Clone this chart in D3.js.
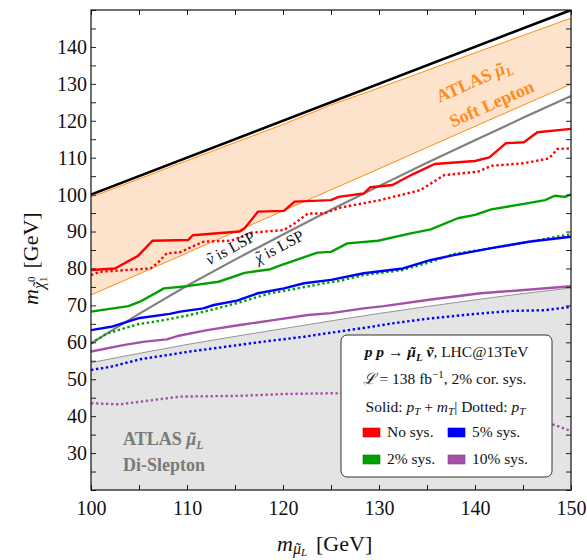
<!DOCTYPE html>
<html><head><meta charset="utf-8">
<script src="https://cdn.jsdelivr.net/npm/d3@7/dist/d3.min.js"></script>
<style>
html,body{margin:0;padding:0;background:#fff;}
svg{display:block;}
text{font-family:"Liberation Serif","DejaVu Serif",serif;}
</style></head>
<body>
<svg id="c" width="587" height="560"></svg>
<script>
// ---------------- data ----------------
const xTickLabels = [100,110,120,130,140,150];
const yTickLabels = [30,40,50,60,70,80,90,100,110,120,130,140];

const diagLine   = [[100,100],[150,150]];
const softUpper  = [[100,99.3],[110,109.2],[120,119.0],[125,124.3],[130,128.9],[140,138.4],[150,147.8]];
const softLower  = [[100,72.8],[110,84.2],[120,95.6],[125,101.3],[130,107.0],[140,118.5],[150,129.9]];
const lspLine    = [[100,59.7],[105,67.7],[110,75.3],[115,82.4],[120,89.2],[125,95.9],[130,102.3],[135,108.6],[140,114.7],[145,120.8],[150,126.7]];
const diSlepton  = [[100,54.5],[105,57.0],[110,59.4],[115,61.6],[120,63.7],[125,65.8],[130,67.8],[135,69.7],[140,71.5],[145,73.2],[150,74.7]];

const noSysSolid = [[100,79.6],[102.5,80.0],[104.9,83.4],[106.4,87.5],[110.1,87.7],[110.6,89.0],[115.5,90.0],[116.0,90.9],[117.4,95.4],[120.1,95.6],[121.2,98.1],[125,98.5],[125.8,99.4],[128.4,100.3],[129.1,102.0],[131.4,102.6],[133.5,105.5],[135.8,108.3],[140.0,109.1],[141.5,110.1],[143.2,113.9],[145.1,114.2],[146.5,116.9],[150,117.8]];
const noSysDot   = [[100,78.2],[100.9,79.1],[106.2,80.0],[106.9,81.4],[107.9,84.1],[109.3,84.4],[110.7,86.1],[111.8,87.3],[114.6,87.5],[116.7,89.7],[120.1,90.4],[121.2,92.2],[122.6,94.9],[124.3,94.9],[126,96.5],[130.1,98.5],[134.3,101.2],[136.8,105.3],[140.3,106.2],[141.7,107.8],[145.1,108.5],[147.7,109.8],[148.6,112.4],[150,112.5]];
const sys2Solid  = [[100,68.3],[103.9,69.8],[105.1,71.0],[107.6,74.6],[110,75.2],[113.3,76.4],[116,78.8],[118.7,79.8],[119.8,80.9],[123.6,84.3],[125,84.5],[126.7,86.8],[129.9,87.5],[133.3,89.5],[135.4,90.6],[138.2,93.6],[140,94.5],[141.7,96.0],[145.1,97.5],[147.3,98.5],[148.3,99.7],[149.4,99.4],[150,100.1]];
const sys2Dot    = [[100,59.7],[101.7,62.4],[104.9,64.9],[107.6,66.0],[110.3,67.4],[112.4,68.7],[115.2,70.6],[117.4,72.3],[118.7,73.3],[121.5,74.6],[124.3,76.0],[126,76.7],[128.4,78.2],[132.5,79.6],[135.4,81.8],[137.8,83.9],[141.7,85.5],[145.8,87.3],[150,89.3]];
const sys5Solid  = [[100,63.3],[102.1,64.2],[104.9,66.5],[108.2,67.7],[109.3,68.3],[111.7,69.2],[112.8,70.1],[115.2,71.3],[117.4,73.3],[120.1,74.6],[122.2,76.0],[125,76.9],[128.4,78.7],[132.5,80.0],[135.4,82.3],[137.8,83.6],[141.7,85.5],[145.8,87.3],[150,88.6]];
const sys5Dot    = [[100,52.5],[102.1,53.4],[105.1,55.4],[110.3,57.5],[114.6,59.0],[118,60.2],[122.2,61.5],[125,62.6],[129.2,64.2],[131.3,65.1],[135.4,66.5],[139.6,67.6],[143.8,68.5],[147.3,68.7],[150,69.6]];
const sys10Solid = [[100,57.5],[103.5,59.3],[105.6,60.2],[107.9,60.8],[109,61.7],[112.1,63.3],[115.5,64.7],[119,66.0],[122.6,67.4],[125,67.9],[128.4,69.2],[130.5,69.8],[135.4,71.6],[140.6,73.3],[145.8,74.3],[150,75.2]];
const sys10Dot   = [[100,43.5],[103,43.2],[105.1,43.9],[109.3,45.3],[115.5,45.5],[120.1,46.0],[125,46.2],[130,46.0],[135,45.0],[140,43.0],[145,40.0],[148.3,37.6],[150,36.0]];

const seriesNames  = ["No sys.","5% sys.","2% sys.","10% sys."];
const seriesColors = ["#ff0000","#0000ff","#00a000","#a550a8"];

// ---------------- layout ----------------
const W = 587, H = 560;
const m = {left:91, right:16, top:10, bottom:70};
const pw = W - m.left - m.right, ph = H - m.top - m.bottom;
const svg = d3.select("#c");
const x = d3.scaleLinear().domain([100,150]).range([0,pw]);
const y = d3.scaleLinear().domain([20,150]).range([ph,0]);
const g = svg.append("g").attr("transform",`translate(${m.left},${m.top})`);

g.append("clipPath").attr("id","clip").append("rect").attr("width",pw).attr("height",ph);
const pg = g.append("g").attr("clip-path","url(#clip)");

const line = d3.line().x(d=>x(d[0])).y(d=>y(d[1]));

// helper: letter with tilde accent; returns dx/dy for the next tspan
function tilde(t, letter, size, opts={}){
  const a = t.append("tspan").text(letter).attr("font-size",size);
  if(opts.italic) a.attr("font-style","italic");
  if(opts.bold) a.attr("font-weight","bold");
  if(opts.dx!=null) a.attr("dx",opts.dx);
  if(opts.dy!=null) a.attr("dy",opts.dy);
  const wl = a.node().getComputedTextLength();
  const b = t.append("tspan").text("˜").attr("font-size",size);
  if(opts.bold) b.attr("font-weight","bold");
  const wt = b.node().getComputedTextLength();
  const sh = opts.italic ? 0.09*size : 0;
  const lift = opts.lift!=null ? opts.lift : 0;
  b.attr("dx", -(wl+wt)/2 + sh).attr("dy",-lift);
  return {dx:(wl-wt)/2 - sh, dy:lift};
}

// di-slepton region
const area = d3.area().x(d=>x(d[0])).y0(y(20)).y1(d=>y(d[1]));
pg.append("path").datum(diSlepton).attr("d",area).attr("fill","#e4e4e4");
pg.append("path").datum(diSlepton).attr("d",line).attr("fill","none").attr("stroke","#8a8a8a").attr("stroke-width",0.9);

// soft lepton band
const band = softUpper.map((d,i)=>[d[0],softLower[i][1],d[1]]);
const bandArea = d3.area().x(d=>x(d[0])).y0(d=>y(d[1])).y1(d=>y(d[2]));
pg.append("path").datum(band).attr("d",bandArea).attr("fill","#fde3cb");
[softUpper,softLower].forEach(s=>pg.append("path").datum(s).attr("d",line)
  .attr("fill","none").attr("stroke","#ff8c10").attr("stroke-width",1));

// diagonal and LSP line
pg.append("path").datum(diagLine).attr("d",line).attr("fill","none").attr("stroke","#000").attr("stroke-width",2.6);
pg.append("path").datum(lspLine).attr("d",line).attr("fill","none").attr("stroke","#808080").attr("stroke-width",2.2);

// curves
const curves = [
  [sys10Dot,3,true],[sys5Dot,1,true],[sys2Dot,2,true],[noSysDot,0,true],
  [sys10Solid,3,false],[sys5Solid,1,false],[sys2Solid,2,false],[noSysSolid,0,false]
];
curves.forEach(([data,ci,dot])=>{
  const p = pg.append("path").datum(data).attr("d",line).attr("fill","none")
    .attr("stroke",seriesColors[ci]).attr("stroke-width",2.4).attr("stroke-linejoin","round");
  if(dot) p.attr("stroke-dasharray","2.4,2.6");
});

// LSP labels
function lspY(xv){
  for(let i=0;i<lspLine.length-1;i++){
    const a=lspLine[i], b=lspLine[i+1];
    if(xv>=a[0]&&xv<=b[0]) return a[1]+(b[1]-a[1])*(xv-a[0])/(b[0]-a[0]);
  }
  return lspLine[lspLine.length-1][1];
}
function lspLabel(xv, dy, first){
  const px=x(xv), py=y(lspY(xv));
  const ang=Math.atan2(y(lspY(xv+3))-y(lspY(xv-3)), x(xv+3)-x(xv-3))*180/Math.PI;
  const t=g.append("text").attr("transform",`translate(${px},${py}) rotate(${ang})`)
    .attr("y",dy).attr("font-size",16).attr("fill","#111");
  const r = tilde(t, first, 16, {italic:true, lift:1});
  t.append("tspan").attr("dx",r.dx).attr("dy",r.dy).text(" is LSP");
}
lspLabel(112.7,-7,"ν");
lspLabel(116.7,14.5,"χ");

// ATLAS soft lepton label
const sl = g.append("g").attr("transform",`translate(${484-m.left},${94-m.top}) rotate(-24)`)
  .attr("fill","#ff8c1a").attr("font-weight","bold").attr("font-size",18).attr("text-anchor","middle");
const sl1 = sl.append("text").attr("x",-4).attr("y",-10);
sl1.append("tspan").text("ATLAS ");
let r1 = tilde(sl1, "μ", 18, {italic:true, bold:true});
sl1.append("tspan").attr("font-style","italic").attr("font-size",12).attr("dx",r1.dx).attr("dy",4).text("L");
sl.append("text").attr("x",3).attr("y",18).text("Soft Lepton");

// ATLAS di-slepton label
const ds = g.append("g").attr("fill","#7a7a7a").attr("font-weight","bold").attr("font-size",18);
const ds1 = ds.append("text").attr("x",123-m.left).attr("y",445-m.top);
ds1.append("tspan").text("ATLAS ");
let r2 = tilde(ds1, "μ", 18, {italic:true, bold:true});
ds1.append("tspan").attr("font-style","italic").attr("font-size",12).attr("dx",r2.dx).attr("dy",4).text("L");
ds.append("text").attr("x",123-m.left).attr("y",471-m.top).text("Di-Slepton");

// ---------------- axes ----------------
const xt = d3.range(100,151,5), yt = d3.range(20,151,5);
const fmtX = d=> xTickLabels.includes(d) ? d : "";
const fmtY = d=> yTickLabels.includes(d) ? d : "";
function styleAxis(sel){
  sel.select(".domain").remove();
  sel.selectAll("line").attr("stroke","#222").attr("stroke-width",1);
  sel.selectAll("text").attr("font-family","Liberation Serif, serif").attr("font-size",20).attr("fill","#111");
}
g.append("g").attr("transform",`translate(0,${ph})`)
  .call(d3.axisBottom(x).tickValues(xt).tickFormat(fmtX).tickSize(-5).tickPadding(11)).call(styleAxis);
g.append("g").call(d3.axisTop(x).tickValues(xt).tickFormat("").tickSize(-5)).call(styleAxis);
g.append("g").call(d3.axisLeft(y).tickValues(yt).tickFormat(fmtY).tickSize(-5).tickPadding(4)).call(styleAxis);
g.append("g").attr("transform",`translate(${pw},0)`)
  .call(d3.axisRight(y).tickValues(yt).tickFormat("").tickSize(-5)).call(styleAxis);
g.append("rect").attr("width",pw).attr("height",ph).attr("fill","none").attr("stroke","#111").attr("stroke-width",1.2);

// axis titles
const xtitle = svg.append("text").attr("x",277).attr("y",551).attr("font-size",22).attr("fill","#111");
xtitle.append("tspan").attr("font-style","italic").text("m");
let r3 = tilde(xtitle, "μ", 16, {italic:true, dy:3});
xtitle.append("tspan").attr("font-style","italic").attr("font-size",11).attr("dx",r3.dx).attr("dy",2).text("L");
xtitle.append("tspan").attr("dx",9).attr("dy",-5).text("[GeV]");

const ytitle = svg.append("text").attr("transform","translate(38,305) rotate(-90)").attr("font-size",22).attr("fill","#111");
ytitle.append("tspan").attr("font-style","italic").text("m");
let r4 = tilde(ytitle, "χ", 16, {italic:true, dy:6});
ytitle.append("tspan").attr("font-size",11).attr("dx",r4.dx).attr("dy",3).text("1");
ytitle.append("tspan").attr("font-size",11).attr("dx",-5.5).attr("dy",-12).text("0");
ytitle.append("tspan").attr("dx",8).attr("dy",3).text("[GeV]");

// ---------------- legend ----------------
const lg = svg.append("g");
lg.append("rect").attr("x",341).attr("y",335).attr("width",211).attr("height",142).attr("rx",6)
  .attr("fill","#fff").attr("stroke","#333").attr("stroke-width",1);
const cx = 446.5;
const l1 = lg.append("text").attr("x",cx).attr("y",357).attr("text-anchor","middle").attr("font-size",15.5).attr("fill","#111");
l1.append("tspan").attr("font-weight","bold").attr("font-style","italic").text("p p → ");
let r5 = tilde(l1, "μ", 15.5, {italic:true, bold:true});
l1.append("tspan").attr("font-weight","bold").attr("font-style","italic").attr("font-size",11).attr("dx",r5.dx).attr("dy",4).text("L");
l1.append("tspan").attr("font-weight","bold").attr("dy",-4).text(" ");
let r6 = tilde(l1, "ν", 15.5, {italic:true, bold:true});
l1.append("tspan").attr("dx",r6.dx).text(", LHC@13TeV");
const l2 = lg.append("text").attr("x",cx-2).attr("y",384).attr("text-anchor","middle").attr("font-size",15.5).attr("fill","#111");
l2.append("tspan").attr("font-style","italic").text("ℒ");
l2.append("tspan").text(" = 138 fb");
l2.append("tspan").attr("font-size",11).attr("dy",-6).text("−1");
l2.append("tspan").attr("dy",6).text(", 2% cor. sys.");
const l3 = lg.append("text").attr("x",cx-1).attr("y",412).attr("text-anchor","middle").attr("font-size",15.5).attr("fill","#111");
l3.append("tspan").text("Solid: ");
l3.append("tspan").attr("font-style","italic").text("p");
l3.append("tspan").attr("font-style","italic").attr("font-size",11).attr("dy",3).text("T");
l3.append("tspan").attr("dy",-3).text(" + ");
l3.append("tspan").attr("font-style","italic").text("m");
l3.append("tspan").attr("font-style","italic").attr("font-size",11).attr("dy",3).text("T");
l3.append("tspan").attr("dy",-3).text("| Dotted: ");
l3.append("tspan").attr("font-style","italic").text("p");
l3.append("tspan").attr("font-style","italic").attr("font-size",11).attr("dy",3).text("T");

const legPos = [[363,428],[448,428],[363,455],[448,455]];
seriesNames.forEach((name,i)=>{
  const [lx,ly]=legPos[i];
  lg.append("rect").attr("x",lx).attr("y",ly).attr("width",17).attr("height",9)
    .attr("fill",seriesColors[i]).attr("stroke",d3.color(seriesColors[i]).darker(0.6)).attr("stroke-width",0.6);
  lg.append("text").attr("x",lx+24).attr("y",ly+9).attr("font-size",15.5).attr("fill","#111").text(name);
});
</script>
</body></html>
